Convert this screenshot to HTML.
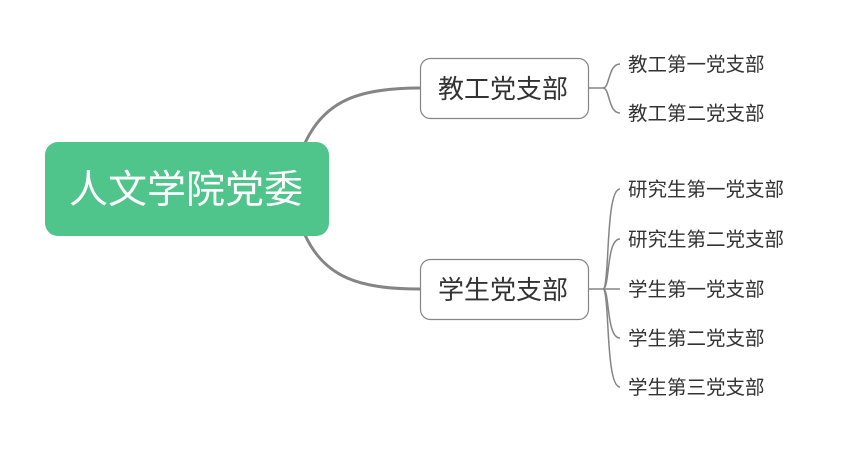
<!DOCTYPE html>
<html><head><meta charset="utf-8"><style>
body{margin:0;width:841px;height:452px;background:#fff;overflow:hidden;font-family:"Liberation Sans","Noto Sans CJK SC",sans-serif;}
svg{position:absolute;left:0;top:0}
.t{font-family:"Liberation Sans","Noto Sans CJK SC",sans-serif;}
</style></head><body>
<svg width="841" height="452" viewBox="0 0 841 452">
<g fill="none" stroke="#858585">
<path d="M305 143 C325 100 360 88 420 88" stroke-width="3"/>
<path d="M305 235 C325 278 360 289 420 289" stroke-width="3"/>
<g stroke-width="1.5">
<path d="M588 88 H603 C610 88 608 64 620 64"/>
<path d="M603 88 C610 88 608 113 620 113"/>
<path d="M588 289 H603 C610 289 605 189 620 189"/>
<path d="M603 289 C610 289 606 239 620 239"/>
<path d="M603 289 H620"/>
<path d="M603 289 C610 289 606 338 620 338"/>
<path d="M603 289 C610 289 605 387 620 387"/>
</g>
</g>
<rect x="45" y="142" width="284" height="94" rx="13" fill="#4fc48b"/>
<text x="186" y="203" text-anchor="middle" font-size="39" fill="#fff" class="t">人文学院党委</text>
<rect x="420.5" y="58.5" width="168" height="60" rx="10" fill="#fff" stroke="#858585" stroke-width="1.2"/>
<rect x="420.5" y="259.5" width="168" height="60" rx="10" fill="#fff" stroke="#858585" stroke-width="1.2"/>
<g font-size="26" fill="#333" text-anchor="middle" class="t">
<text x="503" y="98">教工党支部</text>
<text x="503" y="299">学生党支部</text>
</g>
<g font-size="19.5" fill="#333" class="t">
<text x="628" y="71">教工第一党支部</text>
<text x="628" y="120">教工第二党支部</text>
<text x="628" y="196">研究生第一党支部</text>
<text x="628" y="246">研究生第二党支部</text>
<text x="628" y="296">学生第一党支部</text>
<text x="628" y="345">学生第二党支部</text>
<text x="628" y="394">学生第三党支部</text>
</g>
</svg>
</body></html>
